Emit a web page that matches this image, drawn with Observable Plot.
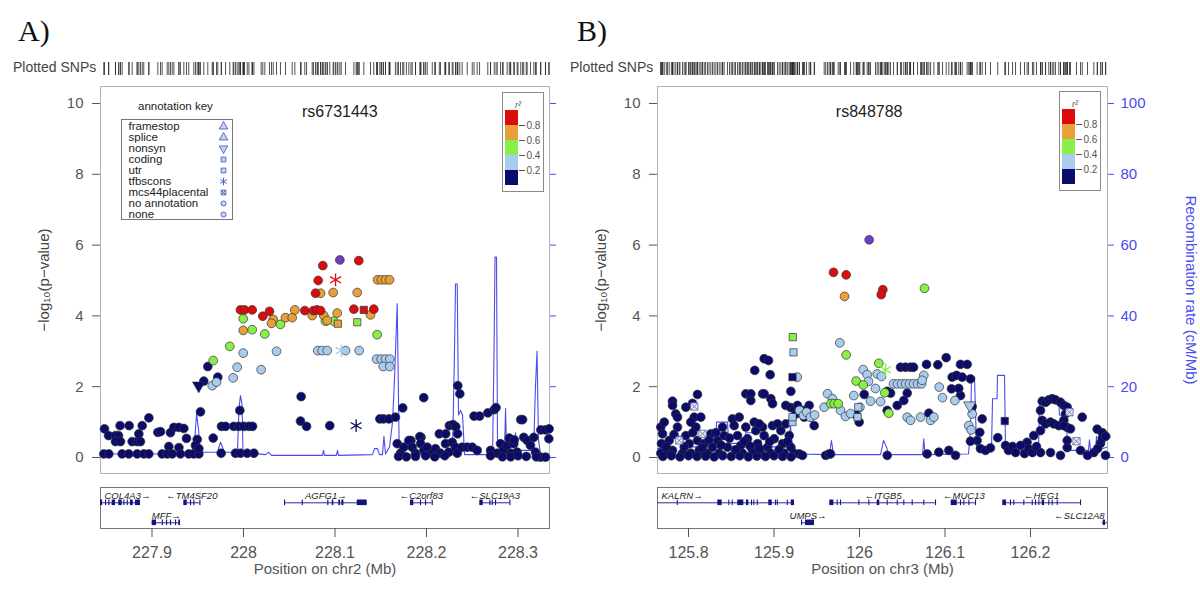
<!DOCTYPE html>
<html><head><meta charset="utf-8">
<script src="https://cdn.jsdelivr.net/npm/d3@7"></script>
<script src="https://cdn.jsdelivr.net/npm/@observablehq/plot@0.6"></script>
<style>
body{margin:0;background:#fff;}
#root{position:relative;width:1200px;height:610px;overflow:hidden;font-family:"Liberation Sans",Arial,sans-serif;background:#fff;}
#root svg{display:block;}
.lbl{position:absolute;white-space:nowrap;}
</style></head><body><div id="root"></div>
<script>
// ---------------- DATA: panel A (chr2) ----------------
const A_title = "rs6731443";
const A_chrLabel = "Position on chr2 (Mb)";
const A_xTicks = [227.9, 228, 228.1, 228.2, 228.3];
const A_index = [[228.1053, 5.58]];
// [position Mb, -log10 p, annotation]  (c coding, t tfbscons, n nonsyn, m mcs44placental)
const A_r2_08 = [[228.126,5.56],[228.0867,5.42],[228.0816,5.00],[228.0787,4.64],[227.9967,4.17],[228.0011,4.17],[228.0095,4.17],[228.0211,3.99],[228.0284,4.13],[228.067,4.15],[228.0765,4.15],[228.0804,4.17],[228.0842,4.15],[228.1206,4.19],[228.1424,4.19],[228.1315,4.17,"c"],[228.1006,5.02,"t"]];
const A_r2_06 = [[228.1465,5.02],[228.1508,5.02],[228.1552,5.02],[228.1596,5.02],[228.0842,4.64],[228.098,4.66],[228.1243,4.66],[228.0325,3.9],[228.0306,3.79],[228.0459,3.95],[228.0532,3.95],[228.0561,4.17],[228.0751,4.01],[228.0878,4.01],[228.0915,3.87],[228.1024,4.08],[228.1388,4.03],[227.9997,3.59],[228.1031,3.78,"c"]];
const A_r2_04 = [[227.9997,3.92],[228.0095,3.61],[228.0233,3.49],[228.0404,3.76],[228.0896,3.85],[228.0987,3.85],[228.1243,3.82,"c"],[228.1461,3.47],[227.985,3.14],[227.9669,2.74]];
const A_r2_02 = [[227.9997,2.95],[228.0361,3.0],[228.0812,3.02],[228.086,3.02],[228.0915,3.02],[228.1068,3.02,"t"],[228.1115,3.02],[228.1264,3.02],[228.1454,2.78],[228.1505,2.78],[228.1552,2.78],[228.1599,2.78],[228.1527,2.57],[228.1599,2.57],[227.9931,2.55],[227.9887,2.25],[228.0193,2.48],[227.9658,2.03],[227.9705,2.13]];
const A_r2_00 = [[227.8481,0.81],[227.8651,0.90],[227.8750,0.90],[227.8893,0.90],[227.8966,1.12],[227.8525,0.62],[227.8601,0.62],[227.8634,0.62],[227.8601,0.45],[227.8656,0.45],[227.8783,0.45],[227.8838,0.45],[227.8874,0.45],[227.8856,0.67],[227.9064,0.71],[227.9093,0.73],[227.9202,0.70],[227.9239,0.85],[227.9294,0.85],[227.9348,0.82],[227.9184,0.31],[227.9294,0.28],[227.9377,0.54],[227.9494,0.51],[227.9669,0.55],[227.9530,1.29],
[227.8473,0.10],[227.8528,0.10],[227.8674,0.10],[227.8746,0.10],[227.8838,0.10],[227.8910,0.10],[227.8965,0.10],[227.9111,0.10],[227.9166,0.10],[227.9221,0.10],[227.9311,0.10],[227.9402,0.10],[227.9457,0.10],[227.9512,0.10],[227.9475,0.34],[227.9512,0.25],
[227.9760,0.88],[227.9804,0.88],[227.9894,0.88],[227.9949,0.88],[228.0004,0.88],[228.0059,0.88],[228.0099,0.88],[227.9960,1.33],[227.9756,0.12],[227.9912,0.12],[227.9967,0.12],[228.0041,0.12],[228.0114,0.12],
[227.9566,2.16],[227.9610,2.57],[227.9719,2.27],[227.9511,2.03,"n"],[228.0630,1.72],[228.0623,1.03],[228.0689,0.88],[228.0943,0.90],[228.1231,0.90,"t"],
[228.1970,1.69],[228.1740,1.40],[228.2342,2.03],[228.2364,1.80],[228.1490,1.09],[228.1530,1.09],[228.1590,1.09],[228.1660,1.14],[228.2520,1.17],[228.2580,1.17],[228.2670,1.26],[228.2740,1.35],[228.2760,1.41],[228.3030,1.07],[228.3050,1.07],[228.3250,0.78],[228.3300,0.78],[228.3340,0.81],[228.2250,0.90],[228.2290,0.93],[228.2320,0.87],[228.2140,0.67],[228.2210,0.67],[228.2340,0.67],[228.1830,0.48],[228.1940,0.57],
[228.1680,0.39],[228.1716,0.12],[228.1752,0.29],[228.1807,0.48],[228.1844,0.29],[228.1880,0.12],[228.1927,0.59],[228.1935,0.39],[228.1971,0.20],[228.2008,0.29],[228.2063,0.12],[228.2098,0.25],[228.2153,0.12],[228.2208,0.39],[228.2244,0.15],[228.2281,0.43],[228.2317,0.29],[228.2336,0.12],[228.2390,0.29],[228.2445,0.29],[228.2500,0.29],[228.2554,0.20],[228.2700,0.20],[228.2773,0.12],[228.2809,0.39],[228.2838,0.20],[228.2882,0.34],[228.2918,0.12],[228.2954,0.39],[228.2991,0.15],[228.3063,0.57],[228.3100,0.48],[228.3136,0.34],[228.3173,0.57],[228.3191,0.15],[228.3246,0.01],[228.3301,0.01],[228.3337,0.53],
[228.1694,0.03],[228.1780,0.02],[228.1880,0.03],[228.1990,0.05],[228.2090,0.02],[228.2200,0.05],[228.2700,0.05],[228.2830,0.02],[228.2920,0.02],[228.3000,0.05],[228.3090,0.03],[228.3200,0.02],[228.2905,0.55],[228.2960,0.50]];
// recombination rate (position Mb, cM/Mb)
const A_recomb = [[227.8437,1.0],[227.8984,1.0],[227.9421,1.2],[227.9465,4],[227.9487,12.5],[227.9508,8],[227.9530,1.5],[227.9716,1.5],[227.9749,4.3],[227.9792,1.5],[227.9934,1.5],[227.9951,14],[227.9967,17.5],[227.9984,15],[227.9995,1.5],[228.0241,0.8],[228.0273,1.5],[228.0306,0.6],[228.0864,0.6],[228.0874,2],[228.0885,0.6],[228.1016,0.6],[228.1027,2],[228.1038,0.6],[228.1410,0.8],[228.1432,2.5],[228.1465,2.5],[228.1486,0.8],[228.1519,0.8],[228.1535,6],[228.1552,1],[228.1596,3],[228.1629,10],[228.1650,22],[228.1680,43.5],[228.1700,5],[228.1716,0.8],[228.2284,0.8],[228.2306,30],[228.2317,49],[228.2336,49],[228.2350,12],[228.2372,13.3],[228.2394,12],[228.2416,0.8],[228.2722,0.8],[228.2738,30],[228.2749,56.6],[228.2765,56.6],[228.2776,5],[228.2809,2],[228.2853,2],[228.2864,13.8],[228.2875,2],[228.2962,2],[228.2973,7],[228.2984,2],[228.3170,2],[228.3191,20],[228.3208,30],[228.3224,5],[228.3246,1],[228.3344,1]];
const A_geneNames = ["COL4A3","TM4SF20","MFF","AGFG1","C2orf83","SLC19A3"];
const A_geneStart = [227.737,227.9348,227.9002,228.0448,228.1825,228.2583];
const A_geneEnd = [227.8874,227.9523,227.9311,228.1352,228.2062,228.2911];
const A_geneStrand = ["+","-","+","+","-","-"];
const A_geneRow = [1,1,2,1,1,1];
// exons: [start, end, row]
const A_exons = [[227.8437,227.8460,1],[227.8492,227.8492,1],[227.8528,227.8528,1],[227.8565,227.8601,1],[227.8637,227.8674,1],[227.8692,227.8692,1],[227.8729,227.8729,1],[227.8765,227.8795,1],[227.8820,227.8874,1],
[227.9348,227.9385,1],[227.9421,227.9421,1],[227.9457,227.9457,1],[227.9523,227.9523,1],
[227.9002,227.9049,2],[227.9112,227.9112,2],[227.9159,227.9159,2],[227.9202,227.9202,2],[227.9257,227.9257,2],[227.9293,227.9311,2],
[228.0448,228.0448,1],[228.0642,228.0642,1],[228.0921,228.0921,1],[228.0970,228.0987,1],[228.1042,228.1060,1],[228.1075,228.1097,1],[228.1243,228.1352,1],
[228.1825,228.1861,1],[228.1934,228.1934,1],[228.1989,228.1989,1],[228.2062,228.2062,1],
[228.2583,228.2620,1],[228.2692,228.2692,1],[228.2718,228.2718,1],[228.2754,228.2754,1],[228.2911,228.2911,1]];

// ---------------- DATA: panel B (chr3) ----------------
const B_title = "rs848788";
const B_chrLabel = "Position on chr3 (Mb)";
const B_xTicks = [125.8, 125.9, 126, 126.1, 126.2];
const B_index = [[126.0113, 6.15]];
const B_r2_08 = [[125.9696,5.23],[125.9844,5.16],[126.0273,4.74],[126.0254,4.60]];
const B_r2_06 = [[125.9825,4.55]];
const B_r2_04 = [[126.0760,4.78],[125.9220,3.40,"c"],[125.9844,2.90],[126.0226,2.66],[126.0304,2.48,"t"],[125.9961,2.16],[126.0043,2.05],[126.0296,1.83],[126.0343,1.25],[125.9664,1.52],[125.9704,1.52],[125.9751,1.52]];
const B_r2_02 = [[125.9228,2.97,"c"],[125.9770,3.24],[126.0043,2.48],[126.0090,2.34],[126.0207,2.36],[126.0257,2.29],[126.0398,2.08],[126.0445,2.08],[126.0492,2.08],[126.0539,2.08],[126.0585,2.08],[126.0632,2.08],[126.0679,2.08],[126.0726,2.08],[126.0752,2.32],[126.0733,2.18],[126.0932,1.99],[126.0971,1.69],[126.1115,1.61],[125.9933,1.75],[126.0004,1.42],[126.0129,1.59],[126.0246,1.58],[126.0558,1.14],[126.0597,1.05],[126.0714,1.14],[126.0831,1.05],[126.0870,1.14],[126.1290,1.47,"n"],[126.1318,1.23],[126.1278,0.90],[126.1306,0.78],[125.9272,2.27],[125.9626,1.80],[125.9684,1.66],[125.9587,1.42],[125.9985,1.42,"c"],[125.9977,1.14,"c"],[125.9298,1.33],[125.9345,1.19],[125.9380,1.28],[125.9427,1.14],[125.9474,1.20],[125.9216,1.00,"c"],[125.9216,1.14,"c"],[125.9778,1.33],[125.9836,1.16],[125.9895,1.24],[126.0187,1.95],[126.0105,2.15]];
const B_r2_00 = [[125.8885,2.79],[125.8936,2.74],[125.8775,2.46],[125.8955,2.34],[125.9216,2.27,"c"],[125.8105,1.78],[125.8670,1.80],[125.8729,1.80],[125.8866,1.80],[125.8885,1.80],[125.9197,1.87],[125.7813,1.59],[125.7813,1.47],[125.7969,1.42],[125.8047,1.53],[125.8729,1.61],[125.8963,1.66],[125.8983,1.52],[125.9138,1.47],[125.9197,1.41],[125.9236,1.38],[125.9275,1.47],[125.9353,1.33],[125.9411,1.47],[126.0055,1.78],[126.0324,1.33],[126.0480,2.55],[126.0539,2.55],[126.0597,2.55],[126.0632,2.55],[126.0784,2.63],[126.0916,2.62],[126.1014,2.82],[126.1181,2.63],[126.1259,2.63],[126.1084,2.27],[126.1135,2.32],[126.1201,2.27],[126.1298,2.22],[126.1076,1.94],[126.1181,1.75],[126.1161,1.95],[126.0324,1.87],[126.0363,1.82],[126.0558,1.82],[126.0518,1.61],[126.0441,1.47],[126.0811,1.25],[125.9965,1.20],[126.1318,1.44],[126.1435,1.09],[126.1407,0.71],[126.1376,0.48],[126.1298,0.46],[126.1617,0.56],[126.1699,1.03,"c"],[126.1415,0.25],[126.1474,0.20],[126.1532,0.27],[126.0324,0.06],[126.0792,0.10],[126.0928,0.15],[126.1045,0.20],[126.1123,0.06],
[126.2137,1.59],[126.2176,1.56],[126.2214,1.63],[126.2254,1.66],[126.2292,1.63],[126.2351,1.56],[126.2390,1.47],[126.2429,1.42],[126.2409,1.23],[126.2390,1.05],[126.2429,0.85],[126.2137,1.05],[126.2176,0.95],[126.2234,1.00],[126.2272,0.95],[126.2331,0.90],[126.2390,0.90],[126.2117,1.33],[126.2117,0.76],[126.2468,0.81],[126.2605,1.14],[126.2038,0.62],[126.1960,0.43],
[126.1708,0.34],[126.1743,0.20],[126.1790,0.31],[126.1825,0.14],[126.1883,0.34],[126.1930,0.11],[126.1977,0.25],[126.2023,0.14],[126.2070,0.31],[126.2117,0.14],
[126.2429,0.48],[126.2429,0.28],[126.2585,0.20],[126.2741,0.14],[126.2819,0.40],[126.2839,0.54],[126.2784,0.25],[126.2877,0.06],[126.2667,0.06],[126.2351,0.06],[126.2234,0.14],[126.2780,0.80],[126.2840,0.70],[126.2880,0.60],
[125.7676,0.86],[125.7696,0.67],[125.7684,0.39],[125.7676,0.12],[125.7754,0.12],[125.7774,0.48],[125.7813,0.20],[125.7851,1.23],[125.7871,0.86],[125.7871,1.14],[125.7930,0.12],[125.7969,0.62],[125.8008,0.39],[125.8027,0.12],[125.8067,1.14],[125.8086,0.86],[125.8105,0.48],[125.8125,0.20],[125.8184,0.39],[125.8222,0.12],[125.8261,0.67],[125.8281,0.29],[125.8339,0.48],[125.8359,0.12],[125.8398,0.86],[125.8417,0.62],[125.8456,0.29],[125.8514,1.09],[125.8534,0.90],[125.8573,0.62],[125.8593,1.14],[125.8612,0.34],[125.8632,0.12],[125.8670,0.86],[125.8690,0.53],[125.8749,0.20],[125.8769,1.00],[125.8787,0.76],[125.8807,0.39],[125.8846,0.12],[125.8866,0.86],[125.8885,0.62],[125.8924,0.29],[125.8963,0.12],[125.8983,0.90],[125.9003,0.53],[125.9041,0.95],[125.9080,0.76],[125.9100,0.39],[125.9119,0.12],[125.9138,0.95],[125.9178,0.62],[125.9197,0.29],[125.9236,0.12],[125.9295,0.10],[125.9333,0.06],[125.9255,1.23],[125.9353,1.14],[125.9430,1.14],[125.9470,0.90],[125.9605,0.06],[125.9645,0.10],[125.9996,1.00],[125.8144,1.14],[125.8027,1.00],[125.7716,1.00],[125.8827,0.95],
[125.7700,0.03],[125.7800,0.05],[125.7900,0.02],[125.8000,0.05],[125.8100,0.03],[125.8200,0.04],[125.8300,0.02],[125.8400,0.05],[125.8500,0.03],[125.8600,0.05],[125.8700,0.02],[125.8800,0.04],[125.8900,0.03],[125.9000,0.05],[125.9100,0.03],[125.9200,0.02],[125.9661,0.10],
[125.7740,0.30],[125.7830,0.65],[125.7950,0.30],[125.8050,0.70],[125.8160,0.28],[125.8240,0.50],[125.8320,0.70],[125.8380,0.35],[125.8480,0.55],[125.8550,0.22],[125.8650,0.45],[125.8720,0.32],[125.8830,0.25],[125.8950,0.45],[125.9060,0.22],[125.9160,0.45],
[125.8067,1.44,"m"],[125.8164,0.67,"m"],[125.7891,0.48,"m"],[126.2538,0.46,"m"],[126.2456,1.28,"m"]];
const B_recomb = [[125.7637,2.5],[125.7766,2.5],[125.7778,6],[125.7930,6],[125.7942,3],[125.8316,3],[125.8328,10],[125.8457,10],[125.8468,4],[125.8656,4],[125.8667,7],[125.8843,7],[125.8854,3],[125.9169,3],[125.9193,9],[125.9216,2],[125.9251,1],[125.9649,0.8],[125.9672,4.8],[125.9696,0.8],[126.0246,0.8],[126.0281,4.8],[126.0316,3],[126.0339,0.8],[126.0737,0.8],[126.0752,5.3],[126.0766,0.8],[126.1275,1],[126.1298,8],[126.1310,22.7],[126.1345,22.7],[126.1369,2.5],[126.1544,2.5],[126.1556,16.6],[126.1609,16.6],[126.1614,23.2],[126.1696,23.2],[126.1708,2],[126.2094,2],[126.2106,16.5],[126.2328,16.5],[126.2339,12],[126.2421,12],[126.2433,2],[126.2678,2],[126.2690,5],[126.2702,2],[126.2761,2],[126.2772,6],[126.2784,2],[126.2900,3]];
const B_geneNames = ["KALRN","UMPS","ITGB5","MUC13","HEG1","SLC12A8"];
const B_geneStart = [125.29,125.9322,125.9653,126.1073,126.1676,126.2839];
const B_geneEnd = [125.924,125.9474,126.0901,126.1368,126.2585,126.43];
const B_geneStrand = ["+","+","-","-","-","-"];
const B_geneRow = [1,2,1,1,1,2];
const B_exons = [[125.7868,125.7868,1],[125.8343,125.8394,1],[125.8471,125.8471,1],[125.8511,125.8511,1],[125.8576,125.8647,1],[125.8678,125.8705,1],[125.8737,125.8737,1],[125.8764,125.8764,1],[125.8804,125.8804,1],[125.8939,125.8979,1],[125.9018,125.9018,1],[125.9038,125.9038,1],[125.9155,125.9155,1],[125.9201,125.9240,1],
[125.9322,125.9322,2],[125.9369,125.9474,2],
[125.9653,125.9700,1],[125.9739,125.9739,1],[125.9778,125.9778,1],[125.9992,125.9992,1],[126.0109,126.0109,1],[126.0207,126.0237,1],[126.0324,126.0324,1],[126.0441,126.0441,1],[126.0518,126.0518,1],[126.0616,126.0616,1],[126.0752,126.0752,1],[126.0889,126.0889,1],
[126.1073,126.1143,1],[126.1181,126.1181,1],[126.1220,126.1220,1],[126.1279,126.1279,1],[126.1357,126.1357,1],
[126.1676,126.1719,1],[126.1766,126.1766,1],[126.1805,126.1805,1],[126.1922,126.1922,1],[126.2020,126.2020,1],[126.2059,126.2059,1],[126.2098,126.2098,1],[126.2137,126.2164,1],[126.2214,126.2214,1],[126.2254,126.2254,1],[126.2312,126.2312,1],[126.2585,126.2585,1],
[126.2851,126.2877,2]];

// ---------------- legends ----------------
const R2_BREAKS = [0, 0.2, 0.4, 0.6, 0.8, 1];
const R2_COLORS = ["#0b0b6c", "#a8cbee", "#88ee48", "#e9a03a", "#dc0c0c"];
const R2_TICKS = [0.2, 0.4, 0.6, 0.8];
const ANNO_NAMES = ["framestop","splice","nonsyn","coding","utr","tfbscons","mcs44placental","no annotation","none"];
const ANNO_SYMBOLS = ["tri","tri","triDown","square","square","asterisk","mcs","circle","circle"];
const Y_TICKS = [0, 2, 4, 6, 8, 10];

// ---------------- rendering ----------------
const FONT = '"Liberation Sans", Arial, Helvetica, sans-serif';
const INDEX_COLOR = "#6e3ec2";
const RECOMB_COLOR = "#4b4bf2";
const root = document.getElementById("root");
const colorScale = {type: "threshold", domain: R2_BREAKS.slice(1, -1), range: R2_COLORS};

function put(el, left, top) {
  el.style.position = "absolute";
  el.style.left = left + "px";
  el.style.top = top + "px";
  root.appendChild(el);
  return el;
}
function label(text, left, top, css) {
  const d = document.createElement("div");
  d.className = "lbl";
  d.textContent = text;
  Object.assign(d.style, css || {});
  return put(d, left, top);
}

function buildSnps(groups) {
  const out = [];
  groups.forEach(([arr, r2]) => arr.forEach(d => out.push({pos: d[0], logp: d[1], r2, anno: d[2] || "o"})));
  return out;
}

function mainPanel(cfg) {
  const snps = cfg.snps;
  const idx = cfg.index.map(d => ({pos: d[0], logp: d[1]}));
  const rec = cfg.recomb.map(d => ({pos: d[0], rate: d[1]}));
  const by = a => snps.filter(d => d.anno === a);
  const marks = [
    Plot.frame({stroke: "#b4b4b4"}),
    Plot.line(rec, {x: "pos", y: d => d.rate / 10, stroke: RECOMB_COLOR, strokeWidth: 1.1, clip: true}),
    Plot.axisY({anchor: "left", ticks: Y_TICKS, tickSize: 8, tickPadding: 9, fontSize: 15, color: "#555", label: null}),
    Plot.axisY({anchor: "right", ticks: Y_TICKS, tickSize: 6, tickPadding: 7, fontSize: 15, color: RECOMB_COLOR,
      tickFormat: cfg.rightLabels ? (d => String(d * 10)) : (() => ""), label: null}),
    Plot.text(["\u2212log\u2081\u2080(p\u2212value)"], {frameAnchor: "left", textAnchor: "middle", rotate: -90, dx: -56, fontSize: 15, fill: "#444"}),
    Plot.dot(by("o"), {x: "pos", y: "logp", fill: "r2", stroke: "#333", strokeWidth: 0.7, r: 4.4}),
    Plot.dot(by("c"), {x: "pos", y: "logp", fill: "r2", stroke: "#333", strokeWidth: 0.7, r: 4.1, symbol: "square"}),
    Plot.dot(by("n"), {x: "pos", y: "logp", fill: "r2", stroke: "#333", strokeWidth: 0.7, r: 4.6, symbol: "triangle", rotate: 180}),
    Plot.dot(by("t"), {x: "pos", y: "logp", stroke: "r2", strokeWidth: 1.3, r: 6, symbol: "asterisk"}),
    Plot.dot(by("m"), {x: "pos", y: "logp", fill: "#eeeef8", stroke: "#5a5f9c", strokeWidth: 0.8, r: 4.1, symbol: "square"}),
    Plot.dot(by("m"), {x: "pos", y: "logp", stroke: "#5a5f9c", strokeWidth: 0.8, r: 3.3, symbol: "times"}),
    Plot.dot(idx, {x: "pos", y: "logp", fill: INDEX_COLOR, stroke: "#333", strokeWidth: 0.7, r: 4.4}),
    Plot.text([cfg.title], {x: () => idx[0].pos, y: () => 9.75, fontSize: 16, fill: "#222"})
  ];
  if (cfg.rightLabels) {
    marks.push(Plot.text(["Recombination rate (cM/Mb)"], {frameAnchor: "right", textAnchor: "middle", rotate: 90, dx: 83, dy: 10, fontSize: 15, fill: RECOMB_COLOR}));
  }
  return Plot.plot({
    width: cfg.width, height: 400,
    marginLeft: 100, marginRight: cfg.marginRight, marginTop: 6, marginBottom: 7,
    x: {domain: cfg.xDomain, axis: null},
    y: {domain: [-0.452, 10.48]},
    color: colorScale,
    style: {fontFamily: FONT, background: "transparent", overflow: "visible"},
    marks
  });
}

function snpTicks(cfg) {
  return Plot.plot({
    width: cfg.width, height: 16,
    marginLeft: 100, marginRight: cfg.marginRight, marginTop: 2, marginBottom: 1,
    x: {domain: cfg.xDomain, axis: null},
    style: {background: "transparent"},
    marks: [Plot.tickX(cfg.snps, {x: "pos", stroke: "#2a2a2a", strokeWidth: 0.9, strokeOpacity: 0.9})]
  });
}

function genePanel(cfg) {
  const [lo, hi] = cfg.xDomain;
  const genes = cfg.names.map((n, i) => ({name: n, start: cfg.start[i], end: cfg.end[i], strand: cfg.strand[i], row: cfg.row[i]}));
  genes.forEach(g => {
    g.text = g.strand === "+" ? g.name + "\u2192" : "\u2190" + g.name;
    if (g.start < lo) { g.lx = lo; g.anchor = "start"; }
    else if (g.end > hi) { g.lx = hi; g.anchor = "end"; }
    else { g.lx = (g.start + g.end) / 2; g.anchor = "middle"; }
  });
  const exons = cfg.exons.map(e => ({x1: e[0], x2: e[1] > e[0] ? e[1] : e[0] + 0.0012, row: e[2]}));
  const textMark = (anchor, dx) => Plot.text(genes.filter(g => g.anchor === anchor),
    {x: "lx", y: d => d.row - 0.36, text: "text", textAnchor: anchor, dx, fontSize: 9.5, fontStyle: "italic", fill: "#222"});
  return Plot.plot({
    width: cfg.width, height: 110,
    marginLeft: 100, marginRight: cfg.marginRight, marginTop: 7, marginBottom: 62,
    x: {domain: cfg.xDomain},
    y: {domain: [0.235, 2.285], reverse: true, axis: null},
    style: {fontFamily: FONT, background: "transparent", overflow: "visible"},
    marks: [
      Plot.frame({stroke: "#777"}),
      Plot.ruleY(genes, {y: "row", x1: d => Math.max(d.start, lo), x2: d => Math.min(d.end, hi), stroke: "#2a2aa6", strokeWidth: 1}),
      Plot.rect(exons, {x1: "x1", x2: "x2", y1: d => d.row - 0.14, y2: d => d.row + 0.14, fill: "#14147e", clip: true}),
      textMark("start", 4), textMark("middle", 0), textMark("end", -3),
      Plot.axisX({ticks: cfg.ticks, tickSize: 9, tickPadding: 9, fontSize: 16, color: "#555",
        tickFormat: d => String(+d.toFixed(1)), label: null}),
      Plot.text([cfg.label], {frameAnchor: "bottom", dy: 45, fontSize: 15, fill: "#555"})
    ]
  });
}

function r2Legend() {
  const bins = R2_COLORS.map((c, i) => ({lo: R2_BREAKS[i], hi: R2_BREAKS[i + 1], c}));
  return Plot.plot({
    width: 40, height: 98,
    marginLeft: 2, marginRight: 25, marginTop: 17, marginBottom: 6,
    x: {axis: null},
    y: {domain: [0, 1]},
    style: {fontFamily: FONT, background: "#fff", border: "1px solid #8a8a8a", overflow: "visible"},
    marks: [
      Plot.rect(bins, {y1: "lo", y2: "hi", fill: "c"}),
      Plot.axisY({anchor: "right", ticks: R2_TICKS, tickSize: 6, tickPadding: 2, fontSize: 10, color: "#555",
        tickFormat: d => d.toFixed(1), label: null}),
      Plot.text(["r\u00b2"], {frameAnchor: "top", dx: 6, dy: -9, fontSize: 9, fontStyle: "italic", fill: "#555"})
    ]
  });
}

function annoKey() {
  const rows = ANNO_NAMES.map((n, i) => ({n, s: ANNO_SYMBOLS[i]}));
  const st = {fill: "#c6d0f4", stroke: "#4e5ecf", strokeWidth: 0.9};
  const f = s => rows.filter(d => d.s === s);
  return Plot.plot({
    width: 110, height: 99,
    margin: 0,
    x: {domain: [0, 1], range: [6, 101], axis: null},
    y: {type: "point", domain: ANNO_NAMES, range: [6, 94], padding: 0, axis: null},
    style: {fontFamily: FONT, background: "#fff", border: "1px solid #777", overflow: "visible"},
    marks: [
      Plot.text(rows, {x: () => 0, y: "n", text: "n", textAnchor: "start", fontSize: 11.5, fill: "#222"}),
      Plot.dot(f("tri"), {x: () => 1, y: "n", symbol: "triangle", r: 3.2, ...st}),
      Plot.dot(f("triDown"), {x: () => 1, y: "n", symbol: "triangle", rotate: 180, r: 3.2, ...st}),
      Plot.dot(f("square"), {x: () => 1, y: "n", symbol: "square", r: 2.7, ...st}),
      Plot.dot(f("asterisk"), {x: () => 1, y: "n", symbol: "asterisk", r: 3.5, stroke: "#4e5ecf", strokeWidth: 1}),
      Plot.dot(f("mcs"), {x: () => 1, y: "n", symbol: "square", r: 2.7, ...st}),
      Plot.dot(f("mcs"), {x: () => 1, y: "n", symbol: "times", r: 2.2, stroke: "#4e5ecf", strokeWidth: 0.9}),
      Plot.dot(f("circle"), {x: () => 1, y: "n", symbol: "circle", r: 2.6, ...st})
    ]
  });
}

const panels = [
  {left: 0, width: 600, marginRight: 51, xDomain: [227.84372, 228.33443], title: A_title, index: A_index, recomb: A_recomb,
   groups: [[A_r2_00, 0.1], [A_r2_02, 0.3], [A_r2_04, 0.5], [A_r2_06, 0.7], [A_r2_08, 0.9]],
   gene: {names: A_geneNames, start: A_geneStart, end: A_geneEnd, strand: A_geneStrand, row: A_geneRow, exons: A_exons, ticks: A_xTicks, label: A_chrLabel},
   rightLabels: false, letter: "A)", letterX: 18, snpLabelX: 13, legendX: 502, legendY: 92, key: true},
  {left: 557, width: 643, marginRight: 93, xDomain: [125.76374, 126.29006], title: B_title, index: B_index, recomb: B_recomb,
   groups: [[B_r2_00, 0.1], [B_r2_02, 0.3], [B_r2_04, 0.5], [B_r2_06, 0.7], [B_r2_08, 0.9]],
   gene: {names: B_geneNames, start: B_geneStart, end: B_geneEnd, strand: B_geneStrand, row: B_geneRow, exons: B_exons, ticks: B_xTicks, label: B_chrLabel},
   rightLabels: true, letter: "B)", letterX: 577, snpLabelX: 570, legendX: 1059, legendY: 91, key: false}
];

panels.forEach(p => {
  const snps = buildSnps(p.groups);
  label(p.letter, p.letterX, 14, {fontFamily: '"Liberation Serif", "DejaVu Serif", serif', fontSize: "30px", color: "#111"});
  label("Plotted SNPs", p.snpLabelX, 59, {fontSize: "14px", color: "#444"});
  put(snpTicks({width: p.width, marginRight: p.marginRight, xDomain: p.xDomain, snps: snps.concat(p.index.map(d => ({pos: d[0]})))}), p.left, 60);
  put(mainPanel({width: p.width, marginRight: p.marginRight, xDomain: p.xDomain, snps, index: p.index, recomb: p.recomb, title: p.title, rightLabels: p.rightLabels}), p.left, 80);
  put(genePanel(Object.assign({width: p.width, marginRight: p.marginRight, xDomain: p.xDomain}, p.gene)), p.left, 480);
  put(r2Legend(), p.legendX, p.legendY);
  if (p.key) {
    label("annotation key", 138, 100, {fontSize: "11.5px", color: "#222"});
    put(annoKey(), 121, 119);
  }
});
</script></body></html>
